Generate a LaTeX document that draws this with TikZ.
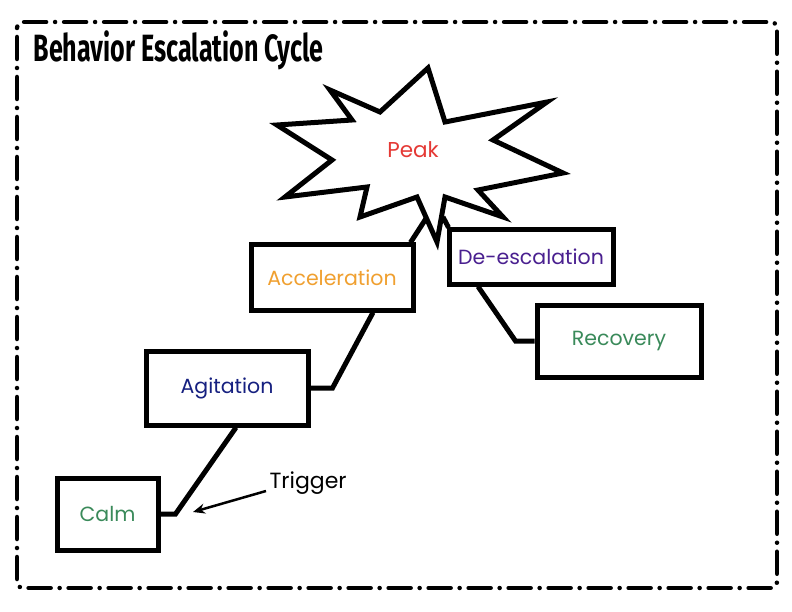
\documentclass[tikz,border=0pt]{standalone}
\usepackage{fontspec}
\usepackage{tikz}
\usetikzlibrary{positioning, arrows.meta}
\setmainfont{Poppins}
\newfontfamily\titlefont[FakeStretch=0.66]{Fira Sans}
\definecolor{CyGreen}{RGB}{58,138,90}
\definecolor{CyNavy}{RGB}{22,32,128}
\definecolor{CyOrange}{RGB}{240,160,48}
\definecolor{CyPurple}{RGB}{74,32,144}
\definecolor{CyRed}{RGB}{229,57,53}

\begin{document}
\begin{tikzpicture}[x=1pt, y=-1pt,
          stage/.style={rectangle, draw=black, line width=5pt, fill=white,
                        align=center, font=\fontsize{20.5}{24}\selectfont},
          link/.style={draw=black, line width=5pt, line join=miter}
        ]
        \useasboundingbox (0,0) rectangle (792,612);

        % frame and title
        \draw[line width=4.5pt, line cap=round, rounded corners=6pt,
              dash pattern=on 0pt off 9pt on 22pt off 9pt]
              (17,22) rectangle (777,588);
        \node[anchor=base west, font=\titlefont\bfseries\fontsize{38}{40}\selectfont]
              (title) at (30,62) {Behavior Escalation Cycle};

        % stages
        \node[stage, text=CyGreen, minimum width=101pt, minimum height=72pt]
              (calm) at (107.5,514) {Calm};
        \node[stage, text=CyNavy, minimum width=162pt, minimum height=74pt]
              (agit) at (227,388) {Agitation};
        \node[stage, text=CyOrange, minimum width=162pt, minimum height=65pt]
              (accel) at (332,277.5) {Acceleration};
        \node[stage, text=CyPurple, minimum width=164pt, minimum height=54pt]
              (desc) at (531,257) {De-escalation};
        \node[stage, text=CyGreen, minimum width=164pt, minimum height=72pt]
              (recov) at (619,341) {Recovery};

        % peak burst
        \coordinate (peakL) at (427,217);
        \coordinate (peakR) at (443,217);
        \draw[link] ([xshift=-5pt]accel.north east) -- (peakL);
        \draw[link] ([xshift=2pt]desc.north west) -- (peakR);
        \draw[link, fill=white]
              (428,68) -- (445,122) -- (547,102) -- (493,140) -- (563,173)
              -- (478,190) -- (503,217) -- (445,197) -- (437,242) -- (417,197)
              -- (360,217) -- (367,187) -- (285,197) -- (332,160) -- (277,125)
              -- (352,120) -- (330,90) -- (380,112) -- cycle;
        \node[font=\fontsize{21.5}{24}\selectfont, text=CyRed] (peak) at (413,150) {Peak};

        % connectors
        \draw[link] (calm.east) -- ++(15,0) -- ([xshift=9pt]agit.south);
        \draw[link] (agit.east) -- ++(22,0) -- ([xshift=41pt]accel.south);
        \draw[link] ([xshift=-53pt]desc.south) -- ([xshift=-19pt]recov.west) -- (recov.west);

        % trigger note
        \node[anchor=west, font=\fontsize{22}{24}\selectfont] (trig) at (266,483) {Trigger};
        \coordinate (trigtip) at (193,512);
        \draw[line width=2.5pt, -{Stealth[length=12pt, width=10pt]}]
              ([yshift=-8pt]trig.west) -- (trigtip);
      \end{tikzpicture}
\end{document}
